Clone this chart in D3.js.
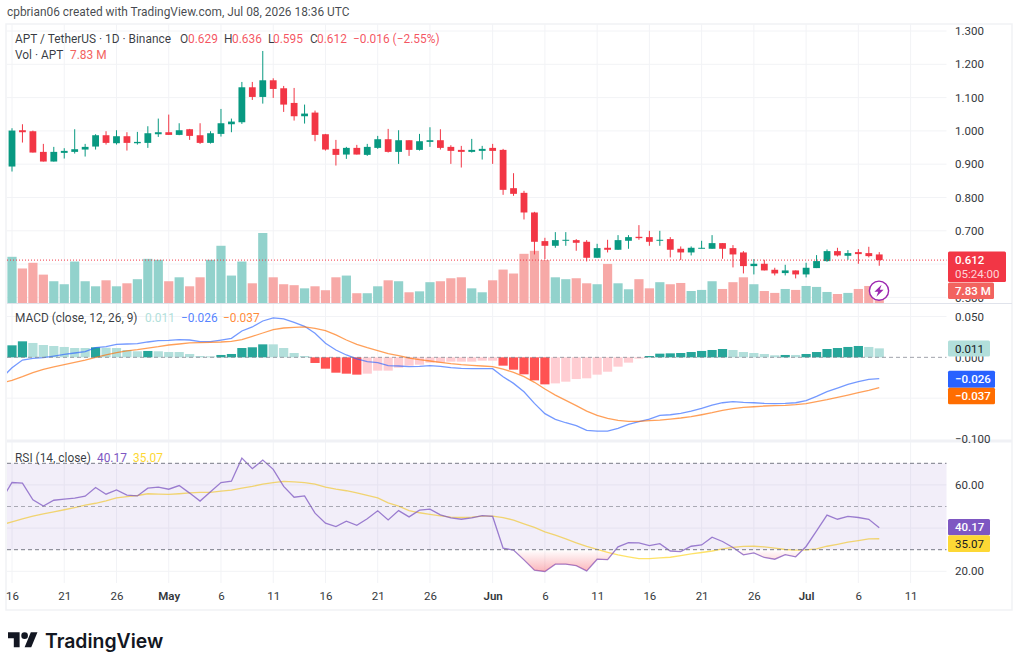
<!doctype html>
<html>
<head>
<meta charset="utf-8">
<title>APT / TetherUS</title>
<script src="https://d3js.org/d3.v7.min.js"></script>
<style>
  html, body { margin: 0; padding: 0; background: #fff; }
  svg { display: block; font-family: Roboto, sans-serif; }
</style>
</head>
<body>
<svg width="1021" height="665"></svg>
<script>
var opens = [
  .893, 1.002, .999, .937, .908, .934, .937, .944, .953, .987,
  .963, .984, .963, .964, .990, .996, .988, 1.005, .987, .964,
  .991, 1.020, 1.026, 1.131, 1.102, 1.152, 1.128, 1.084, 1.044, 1.055,
  .990, .946, .929, .949, .928, .949, .975, .937, .972, .943,
  .967, .972, .952, .943, .937, .940, .949, .943, .828, .814,
  .755, .669, .655, .670, .672, .667, .619, .649, .643, .670,
  .682, .681, .670, .675, .646, .635, .647, .646, .663, .648,
  .635, .594, .601, .583, .573, .581, .569, .588, .609, .639,
  .625, .636, .633, .629]
var highs = [
  1.008, 1.020, 1.001, .961, .952, .948, 1.005, .961, .990, .999,
  1.002, .996, .997, 1.014, 1.037, 1.049, 1.023, 1.006, 1.023, .999,
  1.066, 1.037, 1.147, 1.147, 1.240, 1.158, 1.135, 1.129, 1.079, 1.061,
  .991, .973, .952, .958, .961, .985, 1.006, 1.002, .972, .991,
  1.011, 1.005, .957, .955, .976, .955, .961, .946, .873, .820,
  .757, .679, .696, .696, .675, .672, .661, .673, .687, .687,
  .717, .700, .700, .681, .653, .653, .670, .687, .663, .657,
  .639, .615, .613, .589, .598, .581, .604, .627, .644, .649,
  .642, .645, .652, .636]
var lows = [
  .878, .965, .935, .908, .908, .917, .932, .923, .944, .959,
  .959, .941, .959, .949, .982, .988, .987, .973, .961, .962,
  .983, .996, 1.021, 1.093, 1.082, 1.099, 1.057, 1.031, 1.022, .969,
  .941, .896, .916, .929, .925, .946, .935, .901, .925, .941,
  .952, .944, .901, .890, .935, .914, .901, .808, .805, .734,
  .629, .615, .649, .655, .640, .608, .619, .635, .643, .646,
  .673, .655, .655, .620, .612, .626, .647, .646, .616, .590,
  .572, .569, .581, .566, .566, .557, .560, .588, .607, .623,
  .613, .601, .620, .595]
var closes = [
  1.001, .996, .935, .908, .937, .940, .945, .952, .987, .964,
  .984, .964, .967, .993, .996, .988, 1.002, .985, .964, .993,
  1.023, 1.028, 1.131, 1.102, 1.152, 1.126, 1.079, 1.044, 1.052, .988,
  .944, .928, .949, .929, .952, .975, .937, .972, .943, .969,
  .972, .949, .940, .937, .943, .946, .940, .823, .811, .755,
  .667, .655, .672, .673, .664, .619, .648, .643, .672, .681,
  .678, .667, .673, .643, .635, .649, .649, .663, .646, .629,
  .594, .601, .581, .572, .581, .569, .589, .609, .639, .626,
  .633, .630, .624, .612]
// millions
var volumes = [
  29.3, 21.9, 25.5, 18.0, 13.8, 11.9, 26.3, 13.8, 10.6, 14.4,
  10.6, 12.5, 15.1, 28.0, 27.4, 13.8, 16.3, 10.6, 16.3, 27.4,
  36.3, 17.4, 26.3, 12.5, 44.4, 16.3, 11.9, 11.3, 9.3, 10.6,
  8.1, 16.3, 17.4, 6.2, 6.2, 10.6, 14.4, 13.8, 6.8, 7.4,
  13.2, 13.8, 15.7, 16.3, 9.3, 6.8, 14.4, 21.2, 18.7, 31.2,
  33.1, 27.2, 16.3, 15.1, 15.7, 12.5, 11.9, 24.8, 12.5, 8.7,
  15.1, 9.3, 13.2, 11.9, 12.7, 7.6, 8.3, 13.8, 8.9, 13.2,
  16.3, 11.9, 7.6, 6.4, 8.9, 8.3, 10.8, 10.2, 7.0, 5.7,
  6.4, 8.9, 10.8, 7.83]
var macd_hist = [
  .0147, .0196, .0176, .0151, .0139, .0127, .0114, .0114, .0123, .0118,
  .0114, .0090, .0074, .0078, .0074, .0065, .0065, .0041, .0016, .0012,
  .0029, .0041, .0114, .0123, .0159, .0159, .0114, .0053, .0016, -.0069,
  -.0139, -.0188, -.0200, -.0212, -.0200, -.0163, -.0163, -.0127, -.0102, -.0090,
  -.0065, -.0065, -.0053, -.0053, -.0053, -.0041, -.0041, -.0102, -.0151, -.0208,
  -.0282, -.0331, -.0319, -.0298, -.0266, -.0257, -.0212, -.0176, -.0114, -.0065,
  -.0016, .0016, .0045, .0049, .0053, .0065, .0078, .0090, .0102, .0090,
  .0065, .0053, .0041, .0025, .0029, .0029, .0041, .0065, .0102, .0114,
  .0127, .0139, .0127, .011]
// line series start one day earlier, the chart cuts that day off at the left edge
var macd_line = [
  -.0257,
  -.0127, -.0033, -.0012, -.0004, .0016, .0037, .0053, .0069, .0118, .0131,
  .0159, .0163, .0167, .0188, .0204, .0208, .0217, .0212, .0192, .0192,
  .0212, .0233, .0323, .0372, .0445, .0482, .0470, .0429, .0380, .0294,
  .0172, .0090, .0029, -.0020, -.0053, -.0065, -.0102, -.0106, -.0114, -.0110,
  -.0102, -.0110, -.0127, -.0135, -.0139, -.0139, -.0139, -.0237, -.0319, -.0421,
  -.0564, -.0690, -.0760, -.0801, -.0837, -.0895, -.0903, -.0903, -.0870, -.0821,
  -.0788, -.0756, -.0711, -.0703, -.0686, -.0658, -.0625, -.0584, -.0556, -.0543,
  -.0551, -.0556, -.0564, -.0568, -.0564, -.0556, -.0531, -.0478, -.0421, -.0376,
  -.0331, -.0298, -.0270, -.026]
var macd_signal = [
  -.0315,
  -.0282, -.0237, -.0188, -.0147, -.0118, -.0090, -.0061, -.0033, 0, .0029,
  .0057, .0078, .0094, .0114, .0131, .0151, .0163, .0176, .0180, .0184,
  .0188, .0196, .0217, .0257, .0298, .0339, .0359, .0368, .0372, .0355,
  .0327, .0274, .0212, .0159, .0118, .0082, .0045, .0020, -.0008, -.0029,
  -.0045, -.0061, -.0078, -.0090, -.0098, -.0106, -.0114, -.0143, -.0184, -.0237,
  -.0306, -.0388, -.0462, -.0527, -.0592, -.0658, -.0711, -.0748, -.0772, -.0784,
  -.0784, -.0776, -.0768, -.0756, -.0743, -.0727, -.0703, -.0678, -.0650, -.0629,
  -.0613, -.0605, -.0596, -.0592, -.0588, -.0580, -.0568, -.0543, -.0519, -.0490,
  -.0462, -.0433, -.0404, -.037]
var rsi_line = [
  53.1,
  61.1, 60.8, 53.1, 50.2, 52.9, 53.4, 53.9, 54.8, 58.8, 55.7,
  57.7, 55.3, 54.9, 58.5, 59.0, 58.0, 59.7, 56.2, 52.5, 56.8,
  61.1, 61.7, 72.4, 67.5, 71.5, 67.2, 59.3, 54.3, 54.9, 46.9,
  42.3, 40.7, 43.2, 41.3, 44.3, 48.0, 43.8, 48.1, 45.2, 48.3,
  48.8, 46.1, 44.7, 44.1, 44.7, 45.8, 45.4, 30.7, 29.8, 25.3,
  20.5, 19.9, 23.3, 23.3, 22.6, 20.2, 25.6, 25.4, 31.3, 33.3,
  33.2, 31.9, 32.8, 29.4, 29.1, 31.6, 32.2, 35.8, 33.8, 31.0,
  27.6, 28.5, 26.4, 25.6, 27.7, 26.7, 31.5, 38.7, 46.0, 44.1,
  45.4, 44.9, 44.1, 40.17]
var rsi_ma = [
  41.5,
  42.9, 44.3, 45.5, 46.6, 47.5, 48.5, 49.5, 50.6, 51.5, 52.6,
  54.0, 54.6, 55.1, 55.9, 55.7, 55.6, 55.9, 56.3, 56.5, 56.5,
  57.1, 57.6, 58.5, 59.3, 60.4, 61.1, 61.6, 61.4, 61.1, 60.4,
  59.0, 58.0, 57.3, 56.3, 55.1, 54.0, 51.7, 50.2, 48.1, 47.1,
  46.4, 45.7, 45.1, 44.9, 45.1, 45.5, 45.5, 44.9, 43.7, 42.0,
  40.3, 38.3, 36.7, 35.0, 33.2, 31.5, 30.1, 28.8, 27.6, 26.7,
  25.9, 25.9, 26.2, 26.5, 27.3, 28.1, 28.7, 29.4, 30.4, 31.1,
  31.5, 31.6, 31.3, 30.7, 30.1, 29.8, 29.9, 30.4, 31.6, 32.5,
  33.5, 34.2, 35.0, 35.07]
var price_ticks = [1.3, 1.2, 1.1, 1.0, .9, .8, .7, .6, .5]
var macd_ticks = [.05, 0, -.1]
var macd_grid = [.05, -.05]
var rsi_ticks = [60, 20]
var rsi_grid = [60, 40, 20]
var rsi_bands = [70, 50, 30]
var time_ticks = ["2026-04-16", "2026-04-21", "2026-04-26", "2026-05-01", "2026-05-06", "2026-05-11",
  "2026-05-16", "2026-05-21", "2026-05-26", "2026-06-01", "2026-06-06", "2026-06-11",
  "2026-06-16", "2026-06-21", "2026-06-26", "2026-07-01", "2026-07-06", "2026-07-11"]

var up_color = '#089981', down_color = '#F23645'
var grid_color = '#f2f3f6', text_color = '#131722'
var left = 7, right = 946.5

var svg = d3.select("svg")
var dates = d3.utcDay.range(new Date(Date.UTC(2026, 3, 16)), new Date(Date.UTC(2026, 6, 9)))
var line_dates = d3.utcDay.range(new Date(Date.UTC(2026, 3, 15)), new Date(Date.UTC(2026, 6, 9)))
var tick_dates = time_ticks.map(function (d) { return new Date(d + "T00:00:00Z"); })

var x = d3.scaleUtc().domain([new Date(Date.UTC(2026, 3, 16)), new Date(Date.UTC(2026, 6, 11))]).range([12, 910.6])
var y_price = d3.scaleLinear().domain([1.3, .5]).range([31, 297.4])
var y_volume = d3.scaleLinear().domain([0, 44.4]).range([303, 233])
var y_macd = d3.scaleLinear().domain([.05, -.1]).range([316.5, 439])
var y_rsi = d3.scaleLinear().domain([70, 30]).range([463.3, 549.7])

var defs = svg.append("defs")
defs.append("clipPath").attr("id", "plot_clip").append("rect")
    .attr("x", left).attr("y", 24).attr("width", right - left).attr("height", 559)
defs.append("clipPath").attr("id", "below_30").append("rect")
    .attr("x", left).attr("y", y_rsi(30)).attr("width", right - left).attr("height", 40)
var pink = defs.append("linearGradient").attr("id", "oversold")
    .attr("gradientUnits", "userSpaceOnUse")
    .attr("x1", 0).attr("x2", 0).attr("y1", y_rsi(30)).attr("y2", y_rsi(20))
pink.append("stop").attr("offset", 0).attr("stop-color", "#f23645").attr("stop-opacity", 0)
pink.append("stop").attr("offset", 1).attr("stop-color", "#f23645").attr("stop-opacity", .36)

// frame and grid
svg.append("rect").attr("x", 6).attr("y", 24).attr("width", 1006).attr("height", 586)
    .attr("fill", "#fff").attr("stroke", "#f1f2f5").attr("stroke-width", 1.5)

svg.selectAll(".v_grid").data(tick_dates).enter().append("line")
    .attr("x1", function (d) { return x(d); }).attr("x2", function (d) { return x(d); })
    .attr("y1", 24).attr("y2", 583)
    .attr("stroke", grid_color)

function h_grid(ticks, scale) {
    svg.append("g").selectAll("line").data(ticks).enter().append("line")
        .attr("x1", left).attr("x2", right)
        .attr("y1", function (d) { return scale(d); }).attr("y2", function (d) { return scale(d); })
        .attr("stroke", grid_color)
}
h_grid(price_ticks, y_price)
h_grid(macd_grid, y_macd)
h_grid(rsi_grid, y_rsi)

svg.append("line").attr("x1", left).attr("x2", 1012).attr("y1", 303.5).attr("y2", 303.5)
    .attr("stroke", "#e0e3eb")
svg.append("line").attr("x1", left).attr("x2", 1012).attr("y1", 441).attr("y2", 441)
    .attr("stroke", "#f0f1f5").attr("stroke-width", 3)

var plot = svg.append("g").attr("clip-path", "url(#plot_clip)")

// volume
plot.selectAll(".volume").data(volumes).enter().append("rect")
    .attr("x", function (d, i) { return x(dates[i]) - 4.6; })
    .attr("width", 9.2)
    .attr("y", function (d) { return y_volume(d); })
    .attr("height", function (d) { return y_volume(0) - y_volume(d); })
    .attr("fill", function (d, i) { return closes[i] >= opens[i] ? '#92d2cc' : '#f7a9a7'; })

// candles
plot.selectAll(".wick").data(dates).enter().append("line")
    .attr("x1", function (d) { return x(d); }).attr("x2", function (d) { return x(d); })
    .attr("y1", function (d, i) { return y_price(highs[i]); })
    .attr("y2", function (d, i) { return y_price(lows[i]); })
    .attr("stroke", function (d, i) { return closes[i] >= opens[i] ? up_color : down_color; })
    .attr("stroke-width", 1)
plot.selectAll(".body").data(dates).enter().append("rect")
    .attr("x", function (d) { return x(d) - 3.4; })
    .attr("width", 6.8)
    .attr("y", function (d, i) { return y_price(Math.max(opens[i], closes[i])); })
    .attr("height", function (d, i) { return Math.max(1, Math.abs(y_price(opens[i]) - y_price(closes[i]))); })
    .attr("fill", function (d, i) { return closes[i] >= opens[i] ? up_color : down_color; })

// last price line
svg.append("line").attr("x1", left).attr("x2", right)
    .attr("y1", y_price(.612)).attr("y2", y_price(.612))
    .attr("stroke", down_color).attr("stroke-width", 1).attr("stroke-dasharray", "1 2")

// macd
plot.selectAll(".hist").data(macd_hist).enter().append("rect")
    .attr("x", function (d, i) { return x(dates[i]) - 4.6; })
    .attr("width", 9.2)
    .attr("y", function (d) { return y_macd(Math.max(d, 0)); })
    .attr("height", function (d) { return Math.abs(y_macd(d) - y_macd(0)); })
    .attr("fill", function (d, i) {
        var prev = i > 0 ? macd_hist[i - 1] : 0
        if (d >= 0) return d > prev ? '#26a69a' : '#b2dfdb'
        return d < prev ? '#ff5252' : '#ffcdd2'
    })
svg.append("line").attr("x1", left).attr("x2", right)
    .attr("y1", y_macd(0)).attr("y2", y_macd(0))
    .attr("stroke", "#787b86").attr("stroke-opacity", .7).attr("stroke-dasharray", "4 3")

var line_gen = function (scale) {
    return d3.line()
        .x(function (d, i) { return x(line_dates[i]); })
        .y(function (d) { return scale(d); })
}
plot.append("path").datum(macd_line).attr("d", line_gen(y_macd))
    .attr("fill", "none").attr("stroke", "#2962ff").attr("stroke-opacity", .65).attr("stroke-width", 1.3)
plot.append("path").datum(macd_signal).attr("d", line_gen(y_macd))
    .attr("fill", "none").attr("stroke", "#ff6d00").attr("stroke-opacity", .65).attr("stroke-width", 1.3)

// rsi
svg.append("rect").attr("x", left).attr("width", right - left)
    .attr("y", y_rsi(70)).attr("height", y_rsi(30) - y_rsi(70))
    .attr("fill", "#7e57c2").attr("fill-opacity", .1)
svg.append("g").selectAll("line").data(rsi_bands).enter().append("line")
    .attr("x1", left).attr("x2", right)
    .attr("y1", function (d) { return y_rsi(d); }).attr("y2", function (d) { return y_rsi(d); })
    .attr("stroke", "#787b86")
    .attr("stroke-opacity", function (d) { return d == 50 ? .6 : 1; })
    .attr("stroke-dasharray", "4 3")

svg.append("g").attr("clip-path", "url(#below_30)").append("path").datum(rsi_line)
    .attr("d", d3.area()
        .x(function (d, i) { return x(line_dates[i]); })
        .y0(y_rsi(30))
        .y1(function (d) { return y_rsi(d); }))
    .attr("fill", "url(#oversold)")

plot.append("path").datum(rsi_ma).attr("d", line_gen(y_rsi))
    .attr("fill", "none").attr("stroke", "#fdd835").attr("stroke-opacity", .75).attr("stroke-width", 1.3)
plot.append("path").datum(rsi_line).attr("d", line_gen(y_rsi))
    .attr("fill", "none").attr("stroke", "#7e57c2").attr("stroke-opacity", .75).attr("stroke-width", 1.3)

// axes
function right_axis(scale, ticks, fmt) {
    var g = svg.append("g").attr("transform", "translate(949.5,0)")
        .call(d3.axisRight(scale).tickValues(ticks).tickFormat(fmt).tickSize(0).tickPadding(5.5))
    g.select(".domain").remove()
    g.selectAll("text").attr("font-family", "Roboto, sans-serif").attr("font-size", 11.5)
        .attr("fill", text_color).attr("opacity", .88)
}
right_axis(y_price, price_ticks, d3.format(".3f"))
right_axis(y_macd, macd_ticks, d3.format(".3f"))
right_axis(y_rsi, rsi_ticks, d3.format(".2f"))

var time_axis = svg.append("g").attr("transform", "translate(0,589)")
    .call(d3.axisBottom(x).tickValues(tick_dates).tickSize(0).tickPadding(3)
        .tickFormat(function (d) { return d.getUTCDate() == 1 ? d3.utcFormat("%b")(d) : d.getUTCDate(); }))
time_axis.select(".domain").remove()
time_axis.selectAll("text").attr("font-family", "Roboto, sans-serif").attr("font-size", 11.5)
    .attr("fill", text_color).attr("opacity", .88)
    .attr("font-weight", function (d) { return d.getUTCDate() == 1 ? 600 : 400; })

// value tags on the price scale, text_y is the middle of the label
function tag(x0, width, y0, height, fill, label, color, text_y) {
    svg.append("rect").attr("x", x0).attr("y", y0).attr("width", width).attr("height", height)
        .attr("rx", 1.5).attr("fill", fill)
    svg.append("text").attr("x", 955).attr("y", (text_y == null ? y0 + height / 2 : text_y) + 4)
        .attr("font-size", 11.5).attr("font-weight", color == "#fff" ? 500 : 400).attr("fill", color).text(label)
}
tag(948, 58, y_price(.612) - 8.6, 30.6, down_color, "0.612", "#fff", y_price(.612))
svg.append("text").attr("x", 955).attr("y", y_price(.612) + 18)
    .attr("font-size", 11.5).attr("fill", "#fff").attr("fill-opacity", .8).text("05:24:00")
tag(948, 46, 282.5, 16.5, "#f2635f", "7.83 M", "#fff")
tag(948, 42, y_macd(.011) - 7.8, 16, "#b2dfdb", "0.011", text_color)
tag(948, 47, 370.7, 17, "#2962ff", "−0.026", "#fff")
tag(948, 47, 387.7, 16.5, "#ff6d00", "−0.037", "#fff")
tag(948, 42, 519, 16.3, "#7e57c2", "40.17", "#fff")
tag(948, 42, 535.3, 16.7, "#fdd835", "35.07", text_color)

// header and legends
function label(x0, y0, text, color, opacity) {
    svg.append("text").attr("x", x0).attr("y", y0)
        .attr("font-size", 11.9).attr("fill", color).attr("fill-opacity", opacity == null ? 1 : opacity).text(text)
}
label(7, 15.5, "cpbrian06 created with TradingView.com, Jul 08, 2026 18:36 UTC", "#131722", .8)
label(15, 43, "APT / TetherUS · 1D · Binance", "#131722", .85)
label(180, 43, "O", "#131722", .85)
label(188, 43, "0.629", down_color, .85)
label(224, 43, "H", "#131722", .85)
label(232, 43, "0.636", down_color, .85)
label(268, 43, "L", "#131722", .85)
label(273, 43, "0.595", down_color, .85)
label(310, 43, "C", "#131722", .85)
label(317, 43, "0.612", down_color, .85)
label(353, 43, "−0.016 (−2.55%)", down_color, .85)
label(15, 59, "Vol · APT", "#131722", .85)
label(70, 59, "7.83 M", "#f2635f")
label(15, 322, "MACD (close, 12, 26, 9)", "#131722", .85)
label(145, 322, "0.011", "#b2dfdb")
label(181, 322, "−0.026", "#2962ff", .8)
label(223, 322, "−0.037", "#ff6d00", .8)
label(15, 462, "RSI (14, close)", "#131722", .85)
label(97, 462, "40.17", "#7e57c2")
label(133, 462, "35.07", "#fdd835")

// alert icon
var icon = svg.append("g").attr("transform", "translate(879,290.7)")
icon.append("circle").attr("r", 9.6).attr("fill", "#fff").attr("stroke", "#9c27b0").attr("stroke-width", 1.4)
icon.append("path").attr("d", "M2.6,-6 L-4.6,1 L-0.8,1 L-2.6,6 L4.6,-1 L0.8,-1 Z").attr("fill", "#9c27b0")

// logo
var logo = svg.append("g").attr("transform", "translate(8,629) scale(0.83)").attr("fill", "#131722")
logo.append("path").attr("d", "M14 22H7V11H0V4h14v18zM28 22h-8l7.5-18h8L28 22z")
logo.append("circle").attr("cx", 20).attr("cy", 8).attr("r", 4)
svg.append("text").attr("x", 45).attr("y", 647.5)
    .attr("font-family", "Inter, sans-serif").attr("font-size", 19.4).attr("font-weight", 600)
    .attr("fill", "#131722").text("TradingView")
</script>
</body>
</html>
